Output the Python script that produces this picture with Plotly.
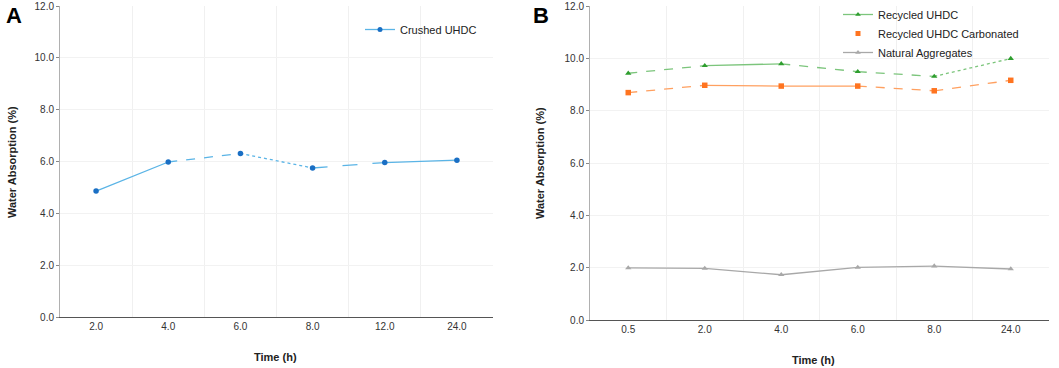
import plotly.graph_objects as go

# ---- data ----
time_a = ["2.0", "4.0", "6.0", "8.0", "12.0", "24.0"]
crushed_uhdc = [4.86, 5.98, 6.31, 5.75, 5.96, 6.05]

time_b = ["0.5", "2.0", "4.0", "6.0", "8.0", "24.0"]
recycled_uhdc = [9.43, 9.72, 9.79, 9.49, 9.31, 9.99]
recycled_carbonated = [8.69, 8.97, 8.94, 8.94, 8.76, 9.16]
natural_aggregates = [1.99, 1.97, 1.73, 2.01, 2.06, 1.95]

y_tickvals = [0, 2, 4, 6, 8, 10, 12]
y_ticktext = ["0.0", "2.0", "4.0", "6.0", "8.0", "10.0", "12.0"]

FONT = "Liberation Sans, Arial, sans-serif"

fig = go.Figure()


def add_series(x, y, name, line_color, marker_color, symbol, dashes, xa, ya, legend,
               legend_line=True):
    # segment lines
    for i in range(len(x) - 1):
        fig.add_trace(go.Scatter(
            x=x[i:i + 2], y=y[i:i + 2], mode="lines",
            line=dict(color=line_color, width=1.3, dash=dashes[i]),
            xaxis=xa, yaxis=ya, showlegend=False, hoverinfo="skip"))
    # markers
    fig.add_trace(go.Scatter(
        x=x, y=y, mode="markers",
        marker=dict(color=marker_color, size=5.5, symbol=symbol),
        xaxis=xa, yaxis=ya, showlegend=False, name=name))
    # legend entry
    fig.add_trace(go.Scatter(
        x=[None], y=[None], mode="lines+markers" if legend_line else "markers",
        line=dict(color=line_color, width=1.3),
        marker=dict(color=marker_color, size=5, symbol=symbol),
        xaxis=xa, yaxis=ya, name=name, legend=legend, showlegend=True))


add_series(time_a, crushed_uhdc, "Crushed UHDC", "#5ab4e6", "#1a6fc4", "circle",
           ["solid", "dash", "dot", "longdash", "solid"], "x", "y", "legend")

add_series(time_b, recycled_uhdc, "Recycled UHDC", "#7cc57c", "#2e9e2e", "triangle-up",
           ["dash", "solid", "dash", "dash", "dot"], "x2", "y2", "legend2")
add_series(time_b, recycled_carbonated, "Recycled UHDC Carbonated", "#ffa060", "#ff7420",
           "square", ["dash", "solid", "solid", "dash", "dash"], "x2", "y2", "legend2",
           legend_line=False)
add_series(time_b, natural_aggregates, "Natural Aggregates", "#a8a8a8", "#a8a8a8",
           "triangle-up", ["solid"] * 5, "x2", "y2", "legend2")

H = 368.0
W = 1059.0

xcommon = dict(
    type="category", range=[-0.5, 5.5], tickson="boundaries",
    showgrid=True, gridcolor="#f0f0f0", gridwidth=1,
    showline=True, linecolor="#555555", linewidth=1.2,
    ticks="", tickfont=dict(size=10, color="#333333", family=FONT),
    zeroline=False, fixedrange=True, automargin=False,
)
ycommon = dict(
    range=[0, 12], tickvals=y_tickvals, ticktext=y_ticktext,
    showgrid=True, gridcolor="#f2f2f2", gridwidth=1,
    showline=True, linecolor="#b0b0b0", linewidth=1,
    ticks="outside", ticklen=3, tickcolor="#888888",
    tickfont=dict(size=10, color="#333333", family=FONT),
    zeroline=False, automargin=False,
)

fig.update_layout(
    width=1059, height=368,
    margin=dict(l=0, r=0, t=0, b=0, autoexpand=False),
    paper_bgcolor="white", plot_bgcolor="white",
    font=dict(family=FONT, color="#222222"),
    xaxis=dict(domain=[60 / W, 493 / W], anchor="y", categoryorder="array",
               categoryarray=time_a, **xcommon),
    yaxis=dict(domain=[(H - 317) / H, (H - 6) / H], anchor="x", **ycommon),
    xaxis2=dict(domain=[590 / W, 1049 / W], anchor="y2", categoryorder="array",
                categoryarray=time_b, **xcommon),
    yaxis2=dict(domain=[(H - 320) / H, (H - 6) / H], anchor="x2", **ycommon),
    legend=dict(x=360 / W, y=1 - 15 / H, xanchor="left", yanchor="top",
                font=dict(size=11, color="#222222", family=FONT),
                bgcolor="rgba(0,0,0,0)", itemwidth=30),
    legend2=dict(x=838 / W, y=1.0, xanchor="left", yanchor="top",
                 font=dict(size=11, color="#222222", family=FONT),
                 bgcolor="rgba(0,0,0,0)", itemwidth=30, tracegroupgap=0),
    showlegend=True,
)

ann = [
    dict(text="<b>A</b>", x=4 / W, y=1 - 16 / H, xanchor="left", yanchor="middle",
         font=dict(size=22, color="black", family=FONT)),
    dict(text="<b>B</b>", x=531 / W, y=1 - 16 / H, xanchor="left", yanchor="middle",
         font=dict(size=22, color="black", family=FONT)),
    dict(text="<b>Water Absorption (%)</b>", x=12 / W, y=1 - 162 / H, textangle=-90,
         xanchor="center", yanchor="middle", font=dict(size=11, color="#222222", family=FONT)),
    dict(text="<b>Water Absorption (%)</b>", x=540 / W, y=1 - 163 / H, textangle=-90,
         xanchor="center", yanchor="middle", font=dict(size=11, color="#222222", family=FONT)),
    dict(text="<b>Time (h)</b>", x=275 / W, y=1 - 357 / H, xanchor="center",
         yanchor="middle", font=dict(size=11, color="#222222", family=FONT)),
    dict(text="<b>Time (h)</b>", x=813 / W, y=1 - 360 / H, xanchor="center",
         yanchor="middle", font=dict(size=11, color="#222222", family=FONT)),
]
for a in ann:
    a.update(xref="paper", yref="paper", showarrow=False)
fig.update_layout(annotations=ann)

fig.write_html("out.html", config={"displayModeBar": False},
               post_script="document.body.style.margin='0';")
